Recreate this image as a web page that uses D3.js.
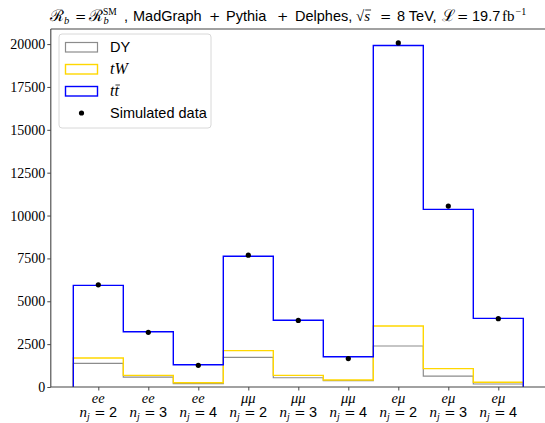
<!DOCTYPE html>
<html>
<head>
<meta charset="utf-8">
<script src="https://cdn.jsdelivr.net/npm/d3@7"></script>
<style>
  body { margin: 0; background: #fff; }
  text { white-space: pre; }
</style>
</head>
<body>
<div id="chart"></div>
<script>
// bins (channel + jet multiplicity)
const channels = ["ee", "ee", "ee", "μμ", "μμ", "μμ", "eμ", "eμ", "eμ"]
const jets = [2, 3, 4, 2, 3, 4, 2, 3, 4]

// stacked step histograms, bottom to top
const dyCounts = [1380, 580, 200, 1730, 540, 370, 2390, 640, 175]
const twCounts = [310, 100, 50, 390, 140, 40, 1165, 430, 100]
const ttCounts = [4240, 2540, 1050, 5510, 3210, 1356, 16360, 9290, 3730]

// simulated data points
const dataCounts = [5960, 3190, 1265, 7690, 3885, 1660, 20065, 10550, 3985]

const yTicks = [0, 2500, 5000, 7500, 10000, 12500, 15000, 17500, 20000]

const SERIF = "'Liberation Serif', 'DejaVu Serif', serif"
const MATH = "'DejaVu Serif', serif"
const SANS = "'Liberation Sans', 'DejaVu Sans', sans-serif"

const config = {
    width: 545, height: 423,
    margin: { left: 50.8, top: 29, right: -0.8, bottom: 36 }
}
const width = config.width - config.margin.left - config.margin.right
const height = config.height - config.margin.top - config.margin.bottom

const series = [
    { key: "dy", color: "#8c8c8c", lw: 1.2 },
    { key: "tw", color: "#ffd700", lw: 1.4 },
    { key: "tt", color: "#0000ff", lw: 1.4 }
]

const svg = d3.select("#chart")
    .append("svg")
    .attr("width", config.width)
    .attr("height", config.height)

const g = svg.append("g")
    .attr("transform", `translate(${config.margin.left}, ${config.margin.top})`)

const x = d3.scaleLinear()
    .domain([-0.45, channels.length + 0.45])
    .range([0, width])

const y = d3.scaleLinear()
    .domain([0, 20880])
    .range([height, 0])

/* write a run of mixed-font text pieces, returns its width */
function richText(parent, pieces, x0, y0) {
    let cx = x0
    pieces.forEach(p => {
        if (p.at !== undefined) cx = p.at
        cx += (p.dx || 0)
        const t = parent.append("text")
            .attr("x", cx)
            .attr("y", y0 + (p.dy || 0))
            .style("font-family", p.font || SERIF)
            .style("font-size", (p.size || 14) + "px")
            .style("font-style", p.italic ? "italic" : "normal")
            .attr("fill", "#000")
            .text(p.t)
        const w = t.node().getComputedTextLength()
        if (p.over) {
            parent.append("line")
                .attr("x1", cx + 1).attr("x2", cx + w + 1)
                .attr("y1", y0 - 11).attr("y2", y0 - 11)
                .attr("stroke", "#000").attr("stroke-width", 0.8)
        }
        if (!p.stay) cx += w
    })
    return cx - x0
}

/* STACKED STEP HISTOGRAMS */
const rows = channels.map((c, i) => ({ dy: dyCounts[i], tw: twCounts[i], tt: ttCounts[i] }))
const stacked = d3.stack().keys(series.map(s => s.key))(rows)

const step = d3.line()
    .x(d => x(d[0]))
    .y(d => y(d[1]))
    .curve(d3.curveStepAfter)

stacked.forEach((layer, k) => {
    const pts = [[0, 0]]
    layer.forEach((d, i) => pts.push([i, d[1]]))
    pts.push([channels.length, layer[layer.length - 1][1]])
    pts.push([channels.length, 0])
    g.append("path")
        .attr("fill", "none")
        .attr("stroke", series[k].color)
        .attr("stroke-width", series[k].lw)
        .attr("d", step(pts))
})

/* DATA POINTS */
g.append("g")
    .selectAll("circle")
    .data(dataCounts)
    .join("circle")
    .attr("cx", (d, i) => x(i + 0.5))
    .attr("cy", d => y(d))
    .attr("r", 2.6)
    .attr("fill", "#000")

/* AXES */
const yAxis = g.append("g")
    .call(d3.axisLeft(y).tickValues(yTicks).tickSize(3.5).tickFormat(d => d))
yAxis.selectAll(".tick text")
    .style("font-family", SERIF)
    .style("font-size", "14px")
    .attr("x", -5.5)
yAxis.selectAll(".tick line").attr("stroke", "#333").attr("stroke-width", 0.9)
yAxis.select(".domain").remove()

const xAxis = g.append("g")
    .attr("transform", `translate(0, ${height})`)
    .call(d3.axisBottom(x).tickValues(channels.map((c, i) => i + 0.5)).tickSize(3.5).tickFormat(""))
xAxis.selectAll(".tick line").attr("stroke", "#333").attr("stroke-width", 0.9)
xAxis.select(".domain").remove()

channels.forEach((c, i) => {
    const cx = x(i + 0.5)
    const l1 = g.append("g")
    const w1 = richText(l1, [{ t: c, italic: true, size: 14.5 }], 0, height + 16)
    l1.attr("transform", `translate(${cx - w1 / 2}, 0)`)
    const l2 = g.append("g")
    const w2 = richText(l2, [
        { t: "n", italic: true, size: 15 },
        { t: "j", italic: true, size: 10, dy: 3 },
        { t: "=", font: MATH, size: 13.5, dx: 4.5 },
        { t: String(jets[i]), font: SANS, size: 14.5, dx: 3.5 }
    ], 0, height + 30)
    l2.attr("transform", `translate(${cx - w2 / 2}, 0)`)
})

/* SPINES */
const spine = g.append("g").attr("stroke", "#444").attr("stroke-width", 1.1).attr("fill", "none")
spine.append("line").attr("x1", 0).attr("x2", 0).attr("y1", 0).attr("y2", height)
spine.append("line").attr("x1", 0).attr("x2", width).attr("y1", height).attr("y2", height)
spine.append("line").attr("x1", 0).attr("x2", width).attr("y1", 0).attr("y2", 0)
spine.append("line").attr("x1", width).attr("x2", width).attr("y1", 0).attr("y2", height)

/* LEGEND */
const legend = svg.append("g").attr("transform", "translate(59, 34)")
legend.append("rect")
    .attr("width", 152).attr("height", 94).attr("rx", 3)
    .attr("fill", "#fff").attr("fill-opacity", 0.8)
    .attr("stroke", "#d8d8d8").attr("stroke-width", 1)

const legendRows = [13, 35, 57, 79]
series.forEach((s, k) => {
    legend.append("rect")
        .attr("x", 6.5).attr("y", legendRows[k] - 4.5)
        .attr("width", 32).attr("height", 9.5)
        .attr("fill", "none")
        .attr("stroke", s.color)
        .attr("stroke-width", s.lw)
})
legend.append("circle").attr("cx", 22.5).attr("cy", legendRows[3]).attr("r", 2.6).attr("fill", "#000")

richText(legend, [{ t: "DY", font: SANS, size: 14.5 }], 51, legendRows[0] + 5)
richText(legend, [{ t: "tW", italic: true, size: 16 }], 51, legendRows[1] + 5)
richText(legend, [{ t: "t", italic: true, size: 16 }, { t: "t", italic: true, size: 16, over: true }], 51, legendRows[2] + 5)
richText(legend, [{ t: "Simulated data", font: SANS, size: 14.5 }], 51, legendRows[3] + 5)

/* TITLE */
const title = svg.append("g")
const R = "\u211B", L = "\u2112"
richText(title, [
    { t: R, size: 16, at: 50 },
    { t: "b", italic: true, size: 10.5, dy: 3 },
    { t: "=", font: MATH, size: 13.5, at: 75 },
    { t: R, size: 16, at: 89 },
    { t: "SM", size: 9.5, dy: -6, stay: true },
    { t: "b", italic: true, size: 10.5, dy: 3, dx: 0.5 },
    { t: ",", font: SANS, size: 14.5, at: 124 },
    { t: "MadGraph", font: SANS, size: 14.5, at: 133 },
    { t: "+", font: MATH, size: 13.5, at: 209 },
    { t: "Pythia", font: SANS, size: 14.5, at: 226 },
    { t: "+", font: MATH, size: 13.5, at: 277 },
    { t: "Delphes,", font: SANS, size: 14.5, at: 295 },
    { t: "\u221A", size: 15, at: 356 },
    { t: "s", italic: true, size: 15, over: true },
    { t: "=", font: MATH, size: 13.5, at: 380 },
    { t: "8 TeV,", font: SANS, size: 14.5, at: 397 },
    { t: L, size: 16, at: 442 },
    { t: "=", font: MATH, size: 13.5, at: 457 },
    { t: "19.7", font: SANS, size: 14.5, at: 472 },
    { t: "fb", size: 15, at: 502 },
    { t: "\u22121", size: 10, dy: -6, dx: 1 }
], 50, 21)
</script>
</body>
</html>
